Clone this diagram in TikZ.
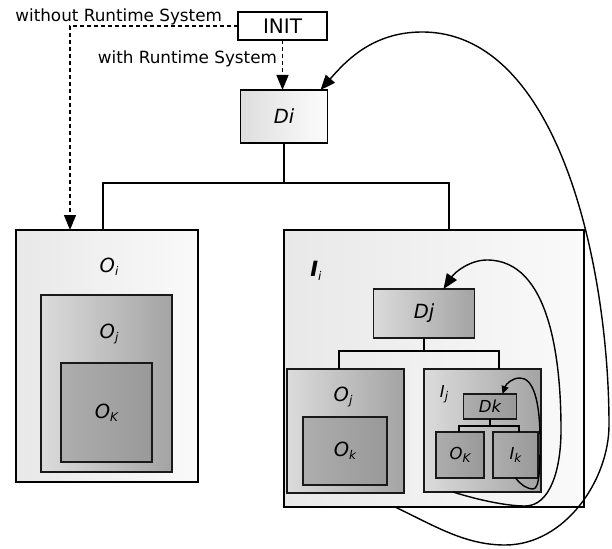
\documentclass[tikz,border=0pt]{standalone}
\usepackage{fontspec}
\setmainfont{DejaVu Sans}
\usetikzlibrary{positioning,arrows.meta,calc}

\newcommand{\idx}[1]{\raisebox{-.3ex}{\fontsize{12}{12}\selectfont\itshape #1}}

\begin{document}
\begin{tikzpicture}[
  x=1pt, y=-1pt,
  every node/.style = {inner sep=0pt, outer sep=0pt, align=center},
  >={Triangle[length=15pt,width=12pt]},
  box/.style 2 args = {draw, line width=1.5pt, minimum width=#1pt, minimum height=#2pt},
  inbox/.style 2 args = {draw=black!90, line width=1.3pt, minimum width=#1pt, minimum height=#2pt},
  lbl/.style = {font=\fontsize{19.5}{22}\selectfont\itshape},
  slbl/.style = {font=\fontsize{16.5}{19}\selectfont\itshape},
  pale/.style = {left color=black!9, right color=black!2},
  paleD/.style = {left color=black!13, right color=black!1},
  mid/.style = {left color=black!14, right color=black!36},
  dark/.style = {left color=black!32, right color=black!40},
  tree/.style = {draw, line width=1.4pt},
  rtline/.style = {draw, line width=1.3pt, dash pattern=on 4pt off 3pt},
  loopline/.style = {draw, line width=1.4pt}
]
  \useasboundingbox (0,0) rectangle (612,548);

  \node[box={89}{28}, fill=white, font=\fontsize{20}{24}\selectfont] (init) at (282.5,26) {INIT};
  \node[box={87}{53}, paleD, lbl] (di) at (284,116.5) {Di};
  \node[font=\fontsize{16.8}{20}\selectfont, anchor=base east] (without) at (222,21.5) {without Runtime System};
  \node[font=\fontsize{16.8}{20}\selectfont, anchor=base east] (with) at (277,64) {with Runtime System};

  \node[box={182}{252}, pale] (oi) at (107,356) {};
  \node[lbl] (oiL) at (109,267) {O\idx{i}};
  \node[inbox={131}{177}, mid] (oj) at (106.5,383.5) {};
  \node[lbl] (ojL) at (109,334) {O\idx{j}};
  \node[inbox={91}{99}, dark, lbl] (ok) at (106.5,412.5) {O\idx{K}};

  \node[box={300}{277}, pale] (ii) at (434,368.5) {};
  \node[font=\fontsize{21}{24}\selectfont\bfseries\itshape] (iiL) at (316,271) {I\idx{\mdseries i}};
  \node[inbox={101}{49}, mid, lbl] (dj) at (424,313.5) {Dj};
  \node[inbox={117}{124}, mid] (ojb) at (345.5,431) {};
  \node[lbl] (ojbL) at (343,397) {O\idx{j}};
  \node[inbox={84}{68}, dark, lbl] (okb) at (345,451) {O\idx{k}};
  \node[inbox={117}{123}, mid] (ij) at (482.5,430.5) {};
  \node[slbl] (ijL) at (444,394) {I\idx{j}};
  \node[inbox={53}{25}, dark, slbl] (dk) at (490,406.5) {Dk};
  \node[inbox={48}{46}, dark, slbl] (okc) at (460,455) {O\idx{K}};
  \node[inbox={45}{46}, dark, slbl] (ik) at (515.5,455) {I\idx{k}};

  \draw[tree] (di.south) -- ++(0,40) coordinate (fork);
  \draw[tree] (fork) -| ([xshift=-4pt]oi.north);
  \draw[tree] (fork) -| ([xshift=15pt]ii.north);
  \draw[tree] (dj.south) -- ++(0,13) coordinate (forkj);
  \draw[tree] (forkj) -| ([xshift=-6.5pt]ojb.north);
  \draw[tree] (forkj) -| ([xshift=16.5pt]ij.north);
  \draw[tree] (dk.south) -- ++(0,7) coordinate (forkk);
  \draw[tree] (forkk) -| ([xshift=-1pt]okc.north);
  \draw[tree] (forkk) -| ([xshift=3.5pt]ik.north);

  \draw[rtline,->] (init.west) -| ([xshift=-37pt]oi.north);
  \draw[rtline,->] (init.south) -- (init.south |- di.north);

  \draw[loopline,->] ([xshift=-39pt]ii.south)
    .. controls (435,526) and (465,545) .. (505,545)
    .. controls (565,545) and (609,480) .. (609,425)
    .. controls (609,270) and (560,32) .. (422,32)
    .. controls (372,32) and (345,62) .. ([xshift=-7pt]di.north east);
  \draw[loopline,->] ([xshift=-29.5pt]ij.south)
    .. controls (475,499) and (505,506) .. (525,506)
    .. controls (550,506) and (561,470) .. (561,430)
    .. controls (561,360) and (550,260) .. (487,260)
    .. controls (470,260) and (455,272) .. ([xshift=-31pt]dj.north east);
  \draw[loopline,-{Triangle[length=8pt,width=7pt]}] (ik.south)
    .. controls (522,486) and (528,489) .. (533,489)
    .. controls (540,489) and (540,465) .. (540,440)
    .. controls (540,400) and (533,378) .. (520,378)
    .. controls (512,378) and (506,384) .. ([xshift=-14pt]dk.north east);
\end{tikzpicture}
\end{document}
